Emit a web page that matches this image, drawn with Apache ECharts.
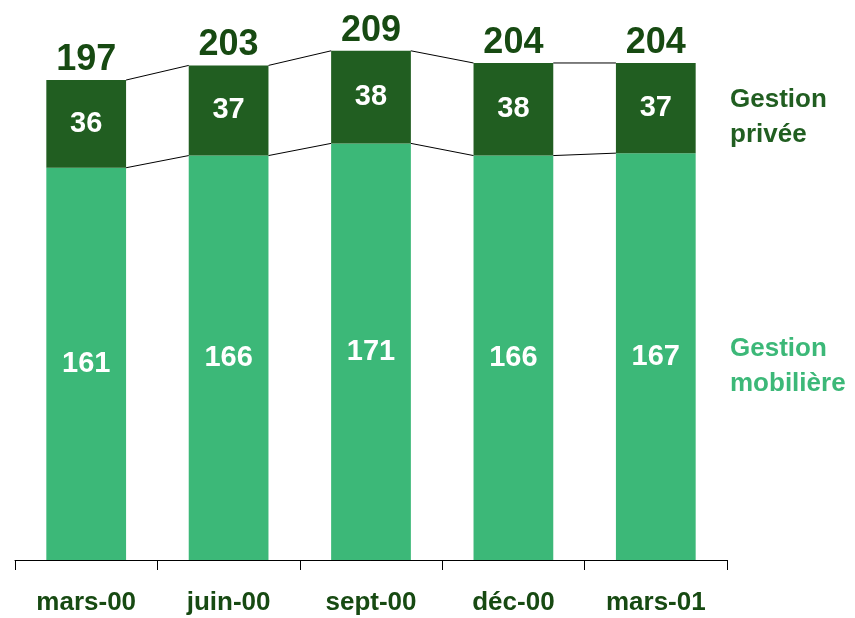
<!DOCTYPE html>
<html>
<head>
<meta charset="utf-8">
<script src="https://cdn.jsdelivr.net/npm/echarts@6/dist/echarts.min.js"></script>
<style>
  html, body { margin: 0; padding: 0; background: #fff; }
  #chart { width: 855px; height: 618px; }
</style>
</head>
<body>
<div id="chart"></div>
<script>
const categories = ['mars-00', 'juin-00', 'sept-00', 'déc-00', 'mars-01']
const mobiliere = [161, 166, 171, 166, 167]
const privee = [36, 37, 38, 38, 37]
const totals = [197, 203, 209, 204, 204]

const DARK = '#215e21'
const LIGHT = '#3cb878'
const TEXT_DARK = '#174a12'
const BAR_RATIO = 0.56

const chart = echarts.init(document.getElementById('chart'))

// lines joining the tops of each segment between neighbouring bars
function joinLines (stackTop) {
  return function (params, api) {
    const i = params.dataIndex
    if (i >= categories.length - 1) return
    const half = api.size([1, 0])[0] * BAR_RATIO / 2
    const a = api.coord([i, stackTop[i]])
    const b = api.coord([i + 1, stackTop[i + 1]])
    return {
      type: 'line',
      shape: { x1: a[0] + half, y1: a[1], x2: b[0] - half, y2: b[1] },
      style: { stroke: '#000', lineWidth: 1 }
    }
  }
}

chart.setOption({
  animation: false,
  grid: { left: 15, right: 128, top: 24, bottom: 58 },
  xAxis: {
    type: 'category',
    data: categories,
    axisLine: { lineStyle: { color: '#000', width: 1 } },
    axisTick: { show: true, length: 10, lineStyle: { color: '#000' } },
    axisLabel: {
      color: TEXT_DARK, fontWeight: 'bold', fontSize: 26,
      fontFamily: 'Liberation Sans', margin: 30
    }
  },
  yAxis: { type: 'value', min: 0, max: 220, show: false, splitLine: { show: false } },
  series: [
    {
      type: 'bar', stack: 'total', data: mobiliere, barWidth: '56%',
      itemStyle: { color: LIGHT },
      label: {
        show: true, position: 'inside', color: '#fff', fontWeight: 'bold',
        fontSize: 29, fontFamily: 'Liberation Sans'
      }
    },
    {
      type: 'bar', stack: 'total', data: privee, barWidth: '56%',
      itemStyle: { color: DARK },
      label: {
        show: true, position: 'inside', color: '#fff', fontWeight: 'bold',
        fontSize: 29, fontFamily: 'Liberation Sans'
      }
    },
    {
      type: 'scatter', data: totals, symbolSize: 0, silent: true,
      itemStyle: { opacity: 1 },
      label: {
        show: true, position: 'top', distance: 2, color: TEXT_DARK,
        fontWeight: 'bold', fontSize: 36, fontFamily: 'Liberation Sans'
      }
    },
    {
      type: 'custom', data: mobiliere, renderItem: joinLines(mobiliere), silent: true, z: 5
    },
    {
      type: 'custom', data: totals, renderItem: joinLines(totals), silent: true, z: 5
    }
  ],
  graphic: [
    {
      type: 'text', left: 730, top: 82,
      style: {
        text: 'Gestion\nprivée', fill: DARK, fontWeight: 'bold',
        fontSize: 26, fontFamily: 'Liberation Sans', lineHeight: 35
      }
    },
    {
      type: 'text', left: 730, top: 331,
      style: {
        text: 'Gestion\nmobilière', fill: LIGHT, fontWeight: 'bold',
        fontSize: 26, fontFamily: 'Liberation Sans', lineHeight: 35
      }
    }
  ]
})
</script>
</body>
</html>
